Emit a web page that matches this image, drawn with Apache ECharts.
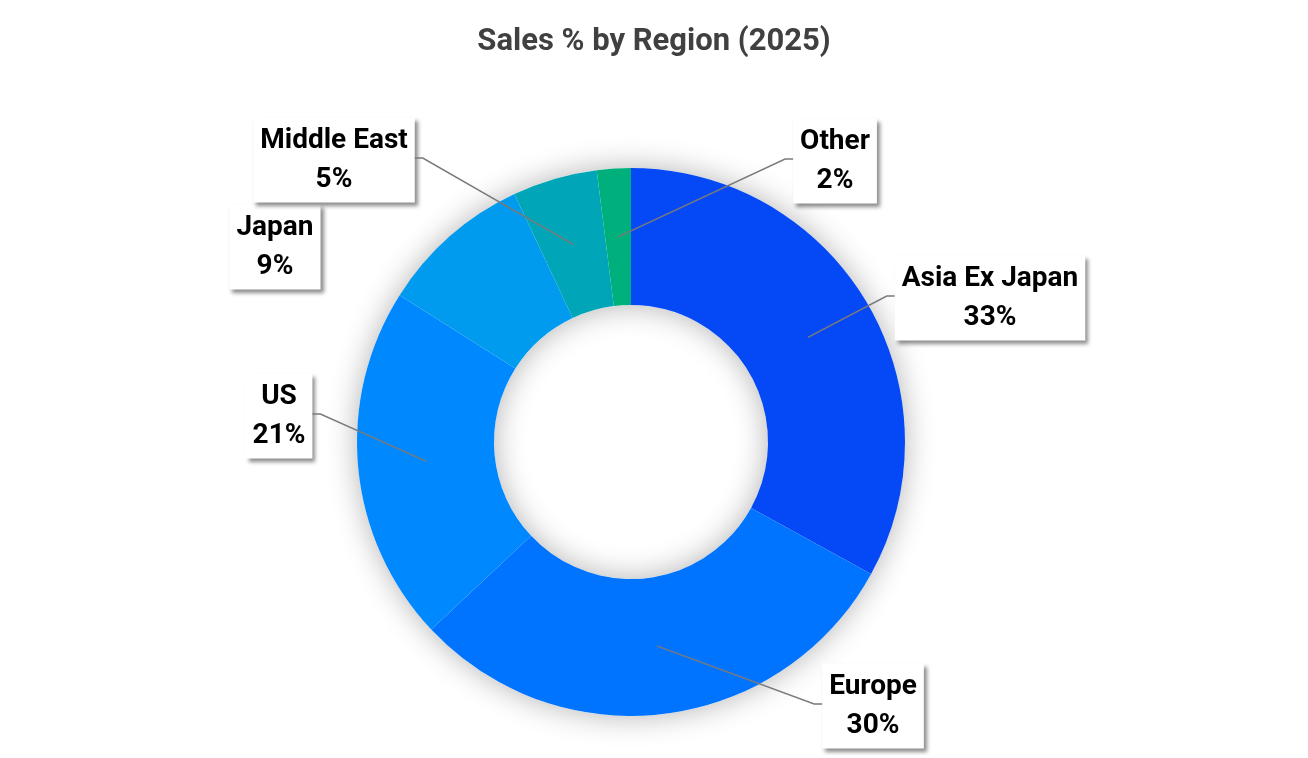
<!DOCTYPE html>
<html>
<head>
<meta charset="utf-8">
<script src="https://cdn.jsdelivr.net/npm/echarts@6/dist/echarts.min.js"></script>
<style>
html,body{margin:0;padding:0;background:#fff;}
#c{width:1308px;height:758px;}
</style>
</head>
<body>
<div id="c"></div>
<script>
var regions = ['Asia Ex Japan', 'Europe', 'US', 'Japan', 'Middle East', 'Other'];
var shares = [33, 30, 21, 9, 5, 2];
var colors = ['#0549F6', '#0074FF', '#0088FF', '#009AEE', '#00A6B8', '#00B07C'];
var showLine = [true, true, true, false, true, true];
// label box centres (layout, not data)
var labelPos = [[990, 298], [873, 706], [279, 416], [275, 247], [334, 160], [835, 161]];

var LABEL_FONT = 28;
var LABEL_PAD_X = 7;
var chart = echarts.init(document.getElementById('c'), null, {renderer: 'canvas'});
var CENTER = [631, 442];
var RADIUS = [137, 274];

var data = regions.map(function (n, i) {
  return {name: n, value: shares[i], itemStyle: {color: colors[i]}};
});

chart.setOption({
  backgroundColor: '#ffffff',
  animation: false,
  title: {
    text: 'Sales % by Region (2025)',
    left: 'center',
    top: 22,
    textStyle: {fontFamily: 'Roboto', fontWeight: 'bold', fontSize: 31, color: '#404040'}
  },
  series: [
    {
      type: 'pie',
      silent: true,
      center: CENTER,
      radius: RADIUS,
      z: 1,
      label: {show: false},
      labelLine: {show: false},
      itemStyle: {color: '#ffffff', shadowBlur: 30, shadowColor: 'rgba(0,0,0,0.3)'},
      data: [{value: 1, name: ''}]
    },
    {
      type: 'pie',
      center: CENTER,
      radius: RADIUS,
      startAngle: 90,
      clockwise: true,
      z: 2,
      avoidLabelOverlap: false,
      emphasis: {disabled: true},
      label: {
        show: true,
        position: 'outside',
        formatter: '{b}\n{c}%',
        fontFamily: 'Roboto',
        fontWeight: 'bold',
        fontSize: LABEL_FONT,
        lineHeight: 39,
        color: '#000000',
        align: 'center',
        backgroundColor: '#ffffff',
        padding: [7, LABEL_PAD_X, 0, LABEL_PAD_X],
        shadowColor: 'rgba(0,0,0,0.45)',
        shadowBlur: 4,
        shadowOffsetX: 3,
        shadowOffsetY: 3
      },
      labelLine: {show: false},
      labelLayout: function (p) {
        var i = p.dataIndex;
        return {x: labelPos[i][0], y: labelPos[i][1], align: 'center', verticalAlign: 'middle'};
      },
      data: data
    }
  ]
});

// leader lines from mid-ring of each slice to its label box
(function () {
  var sd = chart.getModel().getSeriesByIndex(1).getData();
  var ctx = document.createElement('canvas').getContext('2d');
  ctx.font = 'bold ' + LABEL_FONT + 'px Roboto';
  var els = [];
  sd.each(function (i) {
    if (!showLine[i]) return;
    var lay = sd.getItemLayout(i);
    var mid = (lay.startAngle + lay.endAngle) / 2;
    var rm = (lay.r + lay.r0) / 2;
    var ax = lay.cx + rm * Math.cos(mid);
    var ay = lay.cy + rm * Math.sin(mid);
    var w = Math.max(ctx.measureText(regions[i]).width, ctx.measureText(shares[i] + '%').width) + 2 * LABEL_PAD_X;
    var lx = labelPos[i][0], ly = labelPos[i][1] - 2;
    var ex, elx;
    if (ax < lx) { ex = lx - w / 2; elx = ex - 8; } else { ex = lx + w / 2; elx = ex + 8; }
    els.push({
      type: 'polyline',
      silent: true,
      z: 10,
      shape: {points: [[ax, ay], [elx, ly], [ex, ly]]},
      style: {stroke: '#7a7a7a', lineWidth: 1.5, fill: null}
    });
  });
  chart.setOption({graphic: {elements: els}});
})();
</script>
</body>
</html>
